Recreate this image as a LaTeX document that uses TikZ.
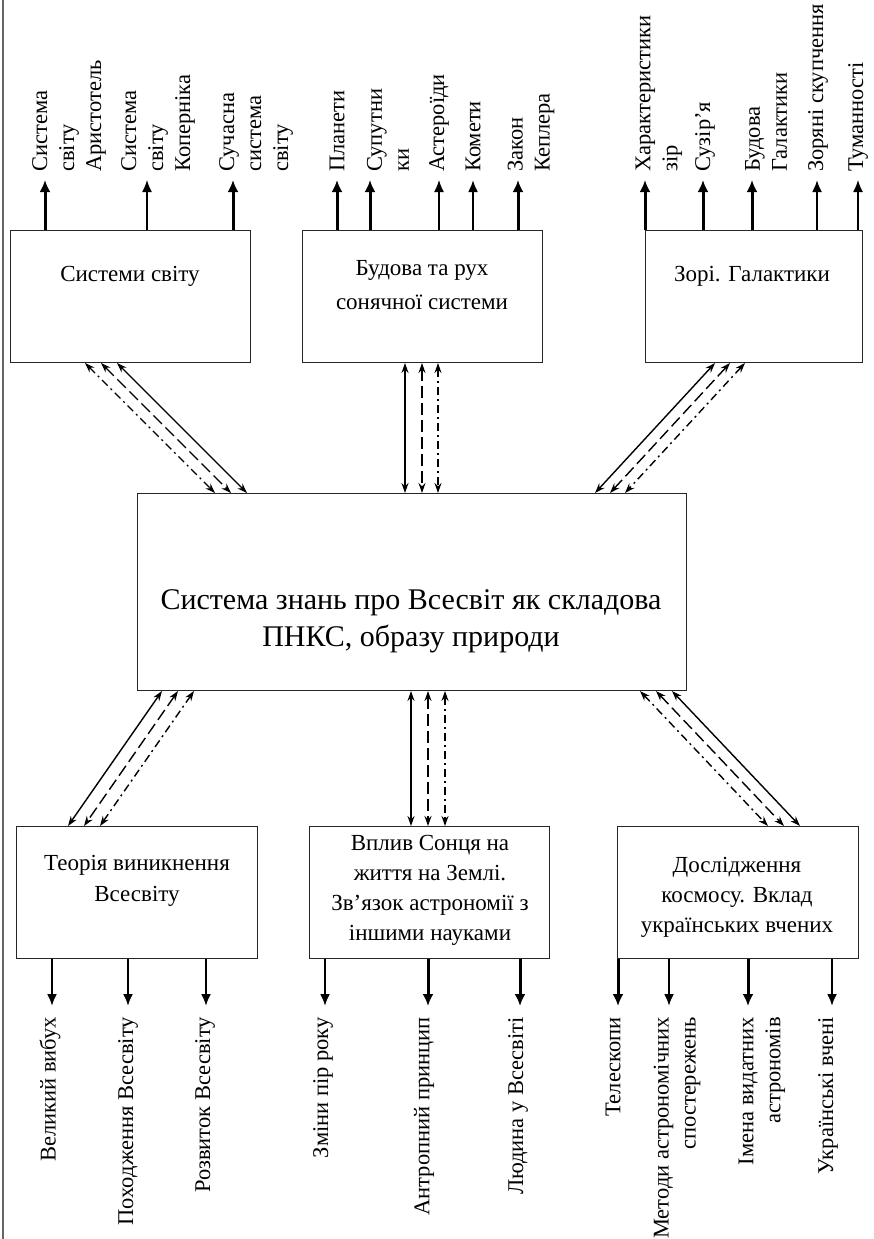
\documentclass[tikz,border=0pt]{standalone}
\usepackage{fontspec}
\setmainfont{Liberation Serif}
\newfontfamily\timesfont{Liberation Serif}
\usetikzlibrary{arrows.meta,calc}

\newcommand\corefont{\timesfont\fontsize{30}{37}\selectfont}
\newcommand\blockfont{\timesfont\fontsize{23}{31}\selectfont}
\newcommand\tagfont{\timesfont\fontsize{22.5}{27}\selectfont}

\tikzset{
  block/.style={draw=black!85,line width=1pt,inner sep=0pt,anchor=north west},
  blocktext/.style={align=center,font=\blockfont,inner sep=0pt},
  uptag/.style={rotate=90,anchor=west,align=left,font=\tagfont,inner sep=0pt},
  downtag/.style={rotate=90,anchor=east,align=right,font=\tagfont,inner sep=0pt},
  tipthin/.style={line width=1.4pt,-{Latex[length=12pt,width=10pt]}},
  tipmid/.style={line width=2.2pt,-{Latex[length=12pt,width=10pt]}},
  tipthick/.style={line width=3pt,-{Latex[length=12pt,width=11pt]}},
  link/.style={line width=1.4pt,{Stealth[length=10pt,width=7pt]}-{Stealth[length=10pt,width=7pt]}},
  dashline/.style={link,dash pattern=on 12pt off 5pt},
  dotline/.style={link,dash pattern=on 8pt off 4pt on 2pt off 4pt}
}

\begin{document}
\begin{tikzpicture}[x=1pt,y=-1pt]
	\useasboundingbox (0,0) rectangle (874,1239);
	\draw[black!60,line width=2pt] (3,0) -- (3,1239);

	% top row
	\node[block,minimum width=240pt,minimum height=132pt] (sysworld) at (10,230) {};
	\node[block,minimum width=240pt,minimum height=132pt] (solar) at (302,230) {};
	\node[block,minimum width=217pt,minimum height=132pt] (stars) at (645,230) {};
	\node[blocktext] (sysworldtxt) at (130,276) {Системи світу};
	\node[blocktext,font=\timesfont\fontsize{23}{34}\selectfont] (solartxt) at (422,285) {Будова та рух\\сонячної системи};
	\node[blocktext] (starstxt) at (752,276) {Зорі. Галактики};

	% centre
	\node[block,minimum width=549pt,minimum height=197pt] (core) at (137,493) {};
	\node[align=center,font=\corefont,inner sep=0pt] (coretxt) at (411,621) {Система знань про Всесвіт як складова\\ПНКС, образу природи};

	% bottom row
	\node[block,minimum width=241pt,minimum height=132pt] (origin) at (16,826) {};
	\node[block,minimum width=240pt,minimum height=132pt] (sun) at (309,826) {};
	\node[block,minimum width=241pt,minimum height=132pt] (research) at (617,826) {};
	\node[blocktext] (origintxt) at (137,881) {Теорія виникнення\\Всесвіту};
	\node[blocktext,font=\timesfont\fontsize{23}{30}\selectfont] (suntxt) at (430,890) {Вплив Сонця на\\життя на Землі.\\Зв’язок астрономії з\\іншими науками};
	\node[blocktext,font=\timesfont\fontsize{23}{30}\selectfont] (researchtxt) at (737,897) {Дослідження\\космосу. Вклад\\українських вчених};

	% outgoing arrows, top
	\draw[tipthick] (sysworld.north -| 45,0) -- ++(0,-50);
	\draw[tipthin] (sysworld.north -| 147,0) -- ++(0,-50);
	\draw[tipthick] (sysworld.north -| 233,0) -- ++(0,-50);
	\node[uptag] (aristotle) at (69,172) {Система\\світу\\Аристотель};
	\node[uptag] (copernicus) at (158,172) {Система\\світу\\Коперніка};
	\node[uptag] (modern) at (256,172) {Сучасна\\система\\світу};

	\draw[tipthick] (solar.north -| 337,0) -- ++(0,-50);
	\draw[tipthick] (solar.north -| 370,0) -- ++(0,-50);
	\draw[tipthin] (solar.north -| 439,0) -- ++(0,-50);
	\draw[tipmid] (solar.north -| 473,0) -- ++(0,-50);
	\draw[tipthick] (solar.north -| 518,0) -- ++(0,-50);
	\node[uptag] (planets) at (337,172) {Планети};
	\node[uptag] (moons) at (388,172) {Супутни\\ки};
	\node[uptag] (asteroids) at (439,172) {Астероїди};
	\node[uptag] (comets) at (473,172) {Комети};
	\node[uptag] (kepler) at (531,172) {Закон\\Кеплера};

	\draw[tipthick] (stars.north -| 645,0) -- ++(0,-50);
	\draw[tipthick] (stars.north -| 703,0) -- ++(0,-50);
	\draw[tipthick] (stars.north -| 752,0) -- ++(0,-50);
	\draw[tipmid] (stars.north -| 817,0) -- ++(0,-50);
	\draw[tipthin] (stars.north -| 858,0) -- ++(0,-50);
	\node[uptag] (features) at (659,172) {Характеристики\\зір};
	\node[uptag] (constell) at (705,172) {Сузір’я};
	\node[uptag] (galaxy) at (766,172) {Будова\\Галактики};
	\node[uptag] (clusters) at (818,172) {Зоряні скупчення};
	\node[uptag] (nebulae) at (858,172) {Туманності};

	% links to the centre
	\draw[dotline] (sysworld.south -| 85,0) -- (core.north -| 215,0);
	\draw[dashline] (sysworld.south -| 101,0) -- (core.north -| 231,0);
	\draw[link] (sysworld.south -| 117,0) -- (core.north -| 247,0);
	\draw[link] (solar.south -| 405,0) -- (core.north -| 405,0);
	\draw[dashline] (solar.south -| 422,0) -- (core.north -| 422,0);
	\draw[dotline] (solar.south -| 438,0) -- (core.north -| 438,0);
	\draw[link] (stars.south -| 715,0) -- (core.north -| 595,0);
	\draw[dashline] (stars.south -| 730,0) -- (core.north -| 610,0);
	\draw[dotline] (stars.south -| 745,0) -- (core.north -| 625,0);

	\draw[link] (core.south -| 162,0) -- (origin.north -| 68,0);
	\draw[dashline] (core.south -| 178,0) -- (origin.north -| 84,0);
	\draw[dotline] (core.south -| 194,0) -- (origin.north -| 100,0);
	\draw[link] (core.south -| 411,0) -- (sun.north -| 411,0);
	\draw[dashline,line width=2pt] (core.south -| 428,0) -- (sun.north -| 428,0);
	\draw[dotline,line width=2pt] (core.south -| 445,0) -- (sun.north -| 445,0);
	\draw[dotline] (core.south -| 640,0) -- (research.north -| 768,0);
	\draw[dashline] (core.south -| 656,0) -- (research.north -| 784,0);
	\draw[link] (core.south -| 672,0) -- (research.north -| 800,0);

	% outgoing arrows, bottom
	\draw[tipmid] (origin.south -| 52,0) -- ++(0,47);
	\draw[tipmid] (origin.south -| 128,0) -- ++(0,47);
	\draw[tipmid] (origin.south -| 206,0) -- ++(0,47);
	\node[downtag] (bigbang) at (50,1017) {Великий вибух};
	\node[downtag] (genesis) at (128,1017) {Походження Всесвіту};
	\node[downtag] (evolution) at (205,1017) {Розвиток Всесвіту};

	\draw[tipmid] (sun.south -| 325,0) -- ++(0,47);
	\draw[tipthick] (sun.south -| 428,0) -- ++(0,47);
	\draw[tipthick] (sun.south -| 520,0) -- ++(0,47);
	\node[downtag] (seasons) at (323,1017) {Зміни пір року};
	\node[downtag] (anthropic) at (424,1017) {Антропний принцип};
	\node[downtag] (human) at (518,1017) {Людина у Всесвіті};

	\draw[tipthick] (research.south -| 618,0) -- ++(0,47);
	\draw[tipmid] (research.south -| 669,0) -- ++(0,47);
	\draw[tipthick] (research.south -| 748,0) -- ++(0,47);
	\draw[tipmid] (research.south -| 832,0) -- ++(0,47);
	\node[downtag] (telescopes) at (613,1017) {Телескопи};
	\node[downtag] (methods) at (677,1017) {Методи астрономічних\\спостережень};
	\node[downtag] (names) at (762,1017) {Імена видатних\\астрономів};
	\node[downtag] (ukrainians) at (828,1017) {Українські вчені};
\end{tikzpicture}
\end{document}
